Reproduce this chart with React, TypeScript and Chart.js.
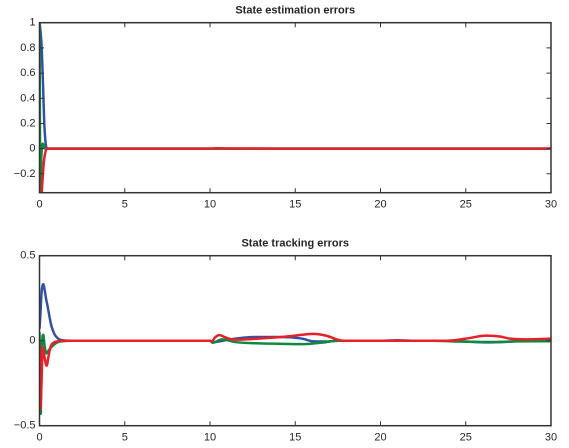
import React, { useEffect, useRef } from "react";
import { Chart, registerables } from "chart.js";

Chart.register(...registerables);

// ---------- data ----------
const xTicks = [0, 5, 10, 15, 20, 25, 30];
const topYTicks = [-0.2, 0, 0.2, 0.4, 0.6, 0.8, 1];
const bottomYTicks = [-0.5, 0, 0.5];

const topTitle = "State estimation errors";
const bottomTitle = "State tracking errors";

// top panel
const topBlueT = [0, 0.06, 0.13, 0.22, 0.28, 0.34, 0.4, 0.5, 1, 5, 10, 15, 20, 25, 30];
const topBlueV = [1, 0.93, 0.8, 0.45, 0.2, 0.07, 0.01, 0, 0, 0, 0, 0, 0, 0, 0];
const topGreenT = [0, 0.02, 0.05, 0.1, 0.15, 0.2, 0.26, 0.35, 0.5, 1, 5, 10, 15, 20, 25, 30];
const topGreenV = [1, 0.4, -0.4, -0.1, 0.02, 0.04, 0.01, 0, 0, 0, 0, 0, 0, 0, 0, 0];
const topRedT = [0, 0.1, 0.13, 0.2, 0.26, 0.34, 0.42, 0.6, 1, 5, 10, 10.4, 11, 15, 20, 25, 30];
const topRedV = [-0.6, -0.42, -0.35, -0.2, -0.1, -0.03, 0, 0, 0, 0, 0, 0.003, 0.001, 0, 0, 0, 0];

// bottom panel
const botBlueT = [0, 0.05, 0.1, 0.15, 0.22, 0.3, 0.38, 0.48, 0.58, 0.67, 0.77, 0.87, 1.07, 1.4, 2, 5, 10, 10.15, 10.5, 11, 12, 12.7, 14, 14.7, 15.5, 16, 16.8, 17.5, 20, 21, 22, 24, 25, 26.3, 27.5, 28.5, 30];
const botBlueV = [0.07, 0.15, 0.25, 0.31, 0.333, 0.3, 0.25, 0.2, 0.145, 0.098, 0.065, 0.04, 0.014, 0.002, 0, 0, 0, -0.01, -0.005, 0.005, 0.018, 0.022, 0.022, 0.02, 0.01, -0.003, -0.005, 0, 0, 0.003, 0, 0, -0.005, -0.01, -0.006, 0, 0.002];
const botGreenT = [0, 0.03, 0.07, 0.12, 0.22, 0.3, 0.4, 0.55, 0.77, 1.0, 1.2, 1.6, 2, 10, 10.15, 10.7, 11.5, 12.7, 14, 15.5, 16.5, 17.5, 20, 23, 24.5, 26.5, 28, 30];
const botGreenV = [0.05, -0.2, -0.43, -0.1, 0.035, -0.03, -0.075, -0.055, -0.03, -0.012, -0.005, -0.001, 0, 0, -0.012, 0.008, -0.008, -0.015, -0.018, -0.02, -0.012, 0, 0, 0, -0.005, -0.008, -0.004, -0.003];
const botRedT = [0, 0.02, 0.06, 0.1, 0.2, 0.3, 0.42, 0.55, 0.67, 0.85, 1.0, 1.3, 2, 10, 10.1, 10.3, 10.55, 10.9, 11.4, 12.5, 14, 15, 16.05, 16.8, 17.8, 20, 23.9, 25, 26.2, 27, 27.6, 28.5, 30];
const botRedV = [0, -0.1, -0.4, -0.3, -0.04, -0.1, -0.147, -0.08, -0.03, -0.01, -0.005, 0, 0, 0, -0.005, 0.02, 0.033, 0.02, 0.006, 0.01, 0.02, 0.03, 0.04, 0.03, 0, 0, 0, 0.012, 0.03, 0.025, 0.012, 0.008, 0.012];

const BLUE = "#3152a3";
const GREEN = "#0e8a3e";
const RED = "#e8202a";
const AXIS = "#333333";
const TEXT = "#262626";
const FONT = "'Liberation Sans', Arial, Helvetica, sans-serif";

const pts = (t: number[], v: number[]) => t.map((x, i) => ({ x, y: v[i] }));

const boxPlugin = {
  id: "matlabBox",
  afterDatasetsDraw(chart: any) {
    const { ctx, chartArea } = chart;
    const { left, right, top, bottom } = chartArea;
    const xs = chart.scales.x;
    const ys = chart.scales.y;
    const L = 4.5;
    ctx.save();
    ctx.strokeStyle = AXIS;
    ctx.lineWidth = 1;
    ctx.beginPath();
    xs.ticks.forEach((tk: any) => {
      const px = xs.getPixelForValue(tk.value);
      ctx.moveTo(px, bottom);
      ctx.lineTo(px, bottom - L);
      ctx.moveTo(px, top);
      ctx.lineTo(px, top + L);
    });
    ys.ticks.forEach((tk: any) => {
      const py = ys.getPixelForValue(tk.value);
      ctx.moveTo(left, py);
      ctx.lineTo(left + L, py);
      ctx.moveTo(right, py);
      ctx.lineTo(right - L, py);
    });
    ctx.stroke();
    ctx.lineWidth = 1.5;
    ctx.strokeRect(left, top, right - left, bottom - top);
    ctx.restore();
  },
};

function makeConfig(
  title: string,
  yMin: number,
  yMax: number,
  yTicks: number[],
  blue: { x: number; y: number }[],
  green: { x: number; y: number }[],
  red: { x: number; y: number }[]
): any {
  const ds = (data: any, color: string) => ({
    data,
    borderColor: color,
    borderWidth: 2.5,
    pointRadius: 0,
    fill: false,
    cubicInterpolationMode: "monotone",
    tension: 0.4,
  });
  return {
    type: "line",
    data: {
      datasets: [ds(red, RED), ds(green, GREEN), ds(blue, BLUE)],
    },
    options: {
      animation: false,
      responsive: false,
      devicePixelRatio: 2,
      layout: { padding: { left: 0, right: 18, top: 0, bottom: 0 } },
      plugins: {
        legend: { display: false },
        tooltip: { enabled: false },
        title: {
          display: true,
          text: title,
          fullSize: false,
          color: TEXT,
          font: { family: FONT, size: 11, weight: "bold", lineHeight: 1.2 },
          padding: { top: 4, bottom: 5.5 },
        },
      },
      scales: {
        x: {
          type: "linear",
          min: 0,
          max: 30,
          grid: { display: false, drawTicks: false },
          border: { display: false },
          afterBuildTicks: (s: any) => {
            s.ticks = xTicks.map((value) => ({ value }));
          },
          afterFit: (s: any) => {
            s.height = 21.3;
          },
          ticks: {
            color: TEXT,
            font: { family: FONT, size: 11 },
            padding: 5,
            maxRotation: 0,
            autoSkip: false,
            callback: (v: number) => String(v),
          },
        },
        y: {
          type: "linear",
          min: yMin,
          max: yMax,
          grid: { display: false, drawTicks: false },
          border: { display: false },
          afterBuildTicks: (s: any) => {
            s.ticks = yTicks.map((value) => ({ value }));
          },
          afterFit: (s: any) => {
            s.width = 39.5;
          },
          ticks: {
            color: TEXT,
            font: { family: FONT, size: 11 },
            padding: 4,
            autoSkip: false,
            callback: (v: number) => String(v).replace("-", "\u2212"),
          },
        },
      },
    },
    plugins: [boxPlugin],
  };
}

export default function App() {
  const topRef = useRef<HTMLCanvasElement | null>(null);
  const botRef = useRef<HTMLCanvasElement | null>(null);

  useEffect(() => {
    const c1 = new Chart(
      topRef.current as HTMLCanvasElement,
      makeConfig(topTitle, -0.35, 1, topYTicks, pts(topBlueT, topBlueV), pts(topGreenT, topGreenV), pts(topRedT, topRedV))
    );
    const c2 = new Chart(
      botRef.current as HTMLCanvasElement,
      makeConfig(bottomTitle, -0.5, 0.5, bottomYTicks, pts(botBlueT, botBlueV), pts(botGreenT, botGreenV), pts(botRedT, botRedV))
    );
    return () => {
      c1.destroy();
      c2.destroy();
    };
  }, []);

  return (
    <div style={{ position: "absolute", left: 0, top: 0, width: 569, height: 448, background: "#fff", overflow: "hidden" }}>
      <canvas ref={topRef} width={569} height={214} style={{ position: "absolute", left: 0, top: 0, width: 569, height: 214 }} />
      <canvas ref={botRef} width={569} height={214} style={{ position: "absolute", left: 0, top: 233.3, width: 569, height: 214 }} />
    </div>
  );
}
